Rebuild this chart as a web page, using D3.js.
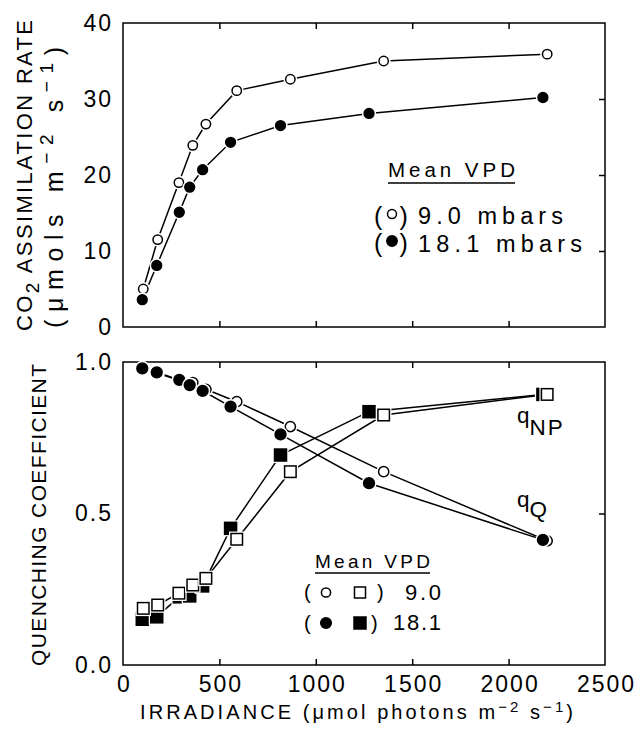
<!DOCTYPE html>
<html>
<head>
<meta charset="utf-8">
<script src="https://cdn.jsdelivr.net/npm/d3@7/dist/d3.min.js"></script>
<style>
    body { margin: 0; background: #fff; }
    svg text { font-family: "Liberation Sans", Arial, sans-serif; fill: #000; }
</style>
</head>
<body>
<div id="chart"></div>
<script>
// irradiance (umol photons m-2 s-1) for the two mean VPD treatments
const irr90 = [105, 180, 290, 362, 430, 590, 868, 1352, 2200];
const irr181 = [100, 175, 292, 346, 413, 558, 817, 1276, 2178];

// CO2 assimilation rate (umol m-2 s-1)
const co2At90 = [5.0, 11.5, 19.0, 23.9, 26.7, 31.1, 32.6, 35.0, 35.9];
const co2At181 = [3.6, 8.1, 15.1, 18.4, 20.7, 24.3, 26.5, 28.1, 30.2];

// photochemical quenching qQ
const qQAt90 = [0.977, 0.963, 0.940, 0.932, 0.910, 0.869, 0.787, 0.638, 0.410];
const qQAt181 = [0.979, 0.966, 0.941, 0.924, 0.905, 0.853, 0.761, 0.600, 0.413];

// non-photochemical quenching qNP
const qNPAt90 = [0.187, 0.198, 0.237, 0.264, 0.286, 0.415, 0.638, 0.825, 0.893];
const qNPAt181 = [0.151, 0.159, 0.225, 0.228, 0.261, 0.451, 0.693, 0.836, 0.893];

const xTicks = [0, 500, 1000, 1500, 2000, 2500];
const co2Ticks = [0, 10, 20, 30, 40];
const qTicks = [0, 0.5, 1.0];

let width = 644;
let height = 734;
let plotLeft = 123;
let plotRight = 605;
let topPanel = {top: 23, bottom: 327};
let bottomPanel = {top: 362, bottom: 665};

let svg, xScale, yCo2, yQ;

const zip = (xs, ys) => xs.map((x, i) => [x, ys[i]]);

function buildSVG() {
    svg = d3.select('#chart')
        .append('svg')
        .attr('width', width)
        .attr('height', height);
}

function buildScales() {
    xScale = d3.scaleLinear()
        .domain([0, 2500])
        .range([plotLeft, plotRight]);

    yCo2 = d3.scaleLinear()
        .domain([0, 40])
        .range([topPanel.bottom, topPanel.top]);

    yQ = d3.scaleLinear()
        .domain([0, 1])
        .range([bottomPanel.bottom, bottomPanel.top]);
}

function styleTicks(g) {
    g.select('.domain').remove();
    g.selectAll('.tick line').attr('stroke', '#000').attr('stroke-width', 1.5);
    g.selectAll('.tick text')
        .attr('fill', '#000')
        .style('font-size', '23px')
        .style('letter-spacing', '2px');
}

function drawFrame(panel, yScale, yTickValues, yFormat, rightTicks, showXLabels) {
    let inner = [500, 1000, 1500, 2000];

    svg.append('g')
        .attr('transform', `translate(${plotLeft},0)`)
        .call(d3.axisLeft(yScale).tickValues(yTickValues).tickFormat(yFormat)
            .tickSize(0).tickPadding(10))
        .call(styleTicks);

    svg.append('g')
        .attr('transform', `translate(${plotRight},0)`)
        .call(d3.axisRight(yScale).tickValues(rightTicks).tickFormat('').tickSize(-6))
        .call(styleTicks);

    svg.append('g')
        .attr('transform', `translate(0,${panel.top})`)
        .call(d3.axisTop(xScale).tickValues(inner).tickFormat('').tickSize(-6))
        .call(styleTicks);

    svg.append('g')
        .attr('transform', `translate(0,${panel.bottom})`)
        .call(d3.axisBottom(xScale).tickValues(inner).tickFormat('').tickSize(-6))
        .call(styleTicks);

    if (showXLabels) {
        svg.append('g')
            .attr('transform', `translate(1,${panel.bottom})`)
            .call(d3.axisBottom(xScale).tickValues(xTicks).tickFormat(d3.format('d'))
                .tickSize(0).tickPadding(11))
            .call(styleTicks);
    }

    svg.append('rect')
        .attr('x', plotLeft)
        .attr('y', panel.top)
        .attr('width', plotRight - plotLeft)
        .attr('height', panel.bottom - panel.top)
        .attr('fill', 'none')
        .attr('stroke', '#000')
        .attr('stroke-width', 1.5);
}

function drawLine(yScale, pts) {
    svg.append('path')
        .datum(pts)
        .attr('fill', 'none')
        .attr('stroke', '#000')
        .attr('stroke-width', 1.5)
        .attr('d', d3.line().x(d => xScale(d[0])).y(d => yScale(d[1])));
}

function drawMarkers(yScale, pts, shape, filled, size) {
    let g = svg.append('g');
    pts.forEach(d => {
        let cx = xScale(d[0]);
        let cy = yScale(d[1]);
        if (shape === 'circle') {
            g.append('circle').attr('cx', cx).attr('cy', cy).attr('r', size + 2.2).attr('fill', '#fff');
            g.append('circle').attr('cx', cx).attr('cy', cy).attr('r', size)
                .attr('fill', filled ? '#000' : '#fff')
                .attr('stroke', '#000').attr('stroke-width', 1.5);
        } else {
            let h = size / 2;
            g.append('rect').attr('x', cx - h - 2).attr('y', cy - h - 2)
                .attr('width', size + 4).attr('height', size + 4).attr('fill', '#fff');
            g.append('rect').attr('x', cx - h).attr('y', cy - h)
                .attr('width', size).attr('height', size)
                .attr('fill', filled ? '#000' : '#fff')
                .attr('stroke', '#000').attr('stroke-width', 1.5);
        }
    });
}

function legendSymbol(shape, filled, cx, cy, size) {
    if (shape === 'circle') {
        svg.append('circle').attr('cx', cx).attr('cy', cy).attr('r', size)
            .attr('fill', filled ? '#000' : '#fff')
            .attr('stroke', '#000').attr('stroke-width', 1.5);
    } else {
        svg.append('rect').attr('x', cx - size / 2).attr('y', cy - size / 2)
            .attr('width', size).attr('height', size)
            .attr('fill', filled ? '#000' : '#fff')
            .attr('stroke', '#000').attr('stroke-width', 1.5);
    }
}

function label(x, y, str, size, len) {
    let t = svg.append('text')
        .attr('x', x)
        .attr('y', y)
        .style('font-size', size + 'px')
        .text(str);
    if (len) {
        t.attr('textLength', len).attr('lengthAdjust', 'spacing');
    }
    return t;
}

function drawTopPanel() {
    drawFrame(topPanel, yCo2, co2Ticks, d3.format('d'), [10, 20, 30], false);

    let open = zip(irr90, co2At90);
    let solid = zip(irr181, co2At181);
    drawLine(yCo2, open);
    drawLine(yCo2, solid);
    drawMarkers(yCo2, open, 'circle', false, 4.7);
    drawMarkers(yCo2, solid, 'circle', true, 4.9);

    // legend
    label(388, 177, 'Mean VPD', 20.5, 127);
    svg.append('line').attr('x1', 388).attr('x2', 515).attr('y1', 183).attr('y2', 183)
        .attr('stroke', '#000').attr('stroke-width', 1.3);

    label(374, 225, '(', 25);
    label(399.5, 225, ')', 25);
    legendSymbol('circle', false, 392, 214, 4.5);
    label(418, 224, '9.0 mbars', 23.5, 145);

    label(374, 252, '(', 25);
    label(399.5, 252, ')', 25);
    legendSymbol('circle', true, 392, 241, 5.2);
    label(418, 251.5, '18.1 mbars', 23.5, 164);

    // axis title, two lines
    let t1 = svg.append('text')
        .attr('transform', 'translate(32,331) rotate(-90)')
        .style('font-size', '22px')
        .attr('textLength', 311)
        .attr('lengthAdjust', 'spacing');
    t1.append('tspan').text('CO');
    t1.append('tspan').attr('dy', 7).style('font-size', '19px').text('2');
    t1.append('tspan').attr('dy', -7).text(' ASSIMILATION RATE');

    let t2 = svg.append('text')
        .attr('transform', 'translate(63,328) rotate(-90)')
        .style('font-size', '25px')
        .attr('textLength', 281)
        .attr('lengthAdjust', 'spacing');
    t2.append('tspan').text('(μmols m');
    t2.append('tspan').attr('dy', -10).style('font-size', '19px').text('−2');
    t2.append('tspan').attr('dy', 10).text(' s');
    t2.append('tspan').attr('dy', -10).style('font-size', '19px').text('−1');
    t2.append('tspan').attr('dy', 10).text(')');
}

function drawBottomPanel() {
    drawFrame(bottomPanel, yQ, qTicks, d3.format('.1f'), [0.5], true);

    let qQOpen = zip(irr90, qQAt90);
    let qQSolid = zip(irr181, qQAt181);
    let qNPOpen = zip(irr90, qNPAt90);
    let qNPSolid = zip(irr181, qNPAt181);

    [qQOpen, qQSolid, qNPOpen, qNPSolid].forEach(pts => drawLine(yQ, pts));

    drawMarkers(yQ, qQOpen, 'circle', false, 5.1);
    drawMarkers(yQ, qQSolid, 'circle', true, 5.4);
    drawMarkers(yQ, qNPSolid, 'square', true, 12);
    drawMarkers(yQ, qNPOpen, 'square', false, 11.5);

    // curve labels
    let np = label(517, 423, 'q', 22.5);
    np.append('tspan').attr('dy', 12).style('letter-spacing', '2px').text('NP');
    let q = label(517, 506.5, 'q', 22.5);
    q.append('tspan').attr('dy', 10).text('Q');

    // legend
    label(315, 568, 'Mean VPD', 19, 115);
    svg.append('line').attr('x1', 315).attr('x2', 430).attr('y1', 573).attr('y2', 573)
        .attr('stroke', '#000').attr('stroke-width', 1.3);

    label(304, 599, '(', 20);
    label(377, 599, ')', 20);
    legendSymbol('circle', false, 326, 592.5, 4.6);
    legendSymbol('square', false, 360, 592.5, 11);
    label(405, 600, '9.0', 22, 36);

    label(304, 630, '(', 20);
    label(371, 630, ')', 20);
    legendSymbol('circle', true, 326, 623, 5.3);
    legendSymbol('square', true, 360, 623, 12);
    label(393, 630, '18.1', 22, 48);

    svg.append('text')
        .attr('transform', 'translate(46,515) rotate(-90)')
        .attr('text-anchor', 'middle')
        .style('font-size', '21px')
        .attr('textLength', 302)
        .attr('lengthAdjust', 'spacing')
        .text('QUENCHING COEFFICIENT');

    let xt = svg.append('text')
        .attr('x', 140)
        .attr('y', 718.5)
        .style('font-size', '20px')
        .attr('textLength', 433)
        .attr('lengthAdjust', 'spacing');
    xt.append('tspan').text('IRRADIANCE (μmol photons m');
    xt.append('tspan').attr('dy', -7).style('font-size', '15px').text('−2');
    xt.append('tspan').attr('dy', 7).text(' s');
    xt.append('tspan').attr('dy', -7).style('font-size', '15px').text('−1');
    xt.append('tspan').attr('dy', 7).text(')');
}

buildSVG();
buildScales();
drawTopPanel();
drawBottomPanel();
</script>
</body>
</html>
